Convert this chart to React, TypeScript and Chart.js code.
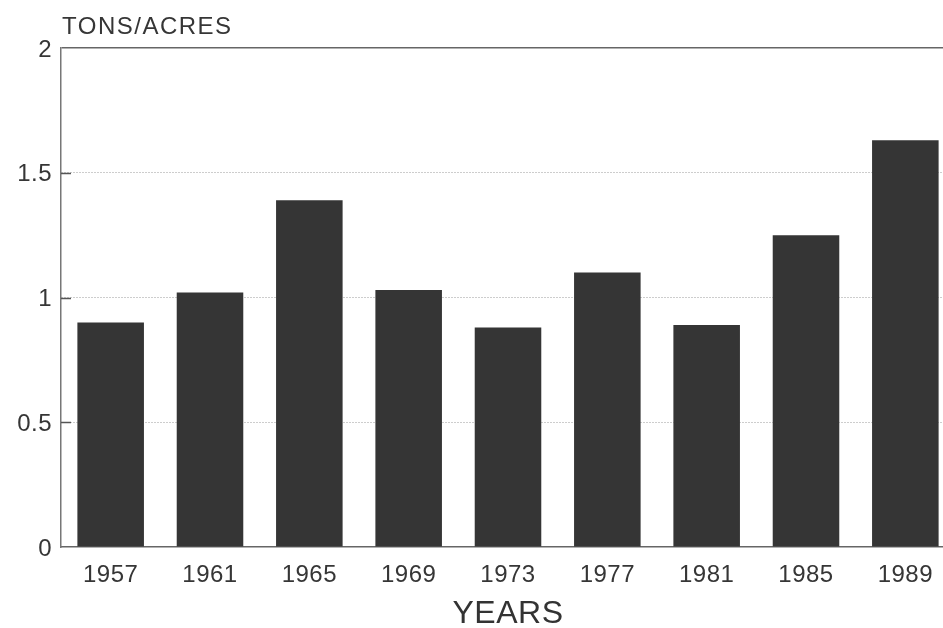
import React, { useEffect, useRef } from "react";
import { Chart, registerables } from "chart.js";

Chart.register(...registerables);

const years = ["1957", "1961", "1965", "1969", "1973", "1977", "1981", "1985", "1989"];
const tonsPerAcre = [0.9, 1.02, 1.39, 1.03, 0.88, 1.1, 0.89, 1.25, 1.63];
const yTicks = [0, 0.5, 1, 1.5, 2];
const yUnitLabel = "TONS/ACRES";
const xTitle = "YEARS";

const FONT = '"Liberation Sans", Arial, Helvetica, sans-serif';
const TEXT = "#363636";

const spacingPlugin = {
  id: "spacing",
  beforeUpdate(chart: any) {
    (chart.ctx as any).letterSpacing = "0.5px";
  },
  beforeDraw(chart: any) {
    (chart.ctx as any).letterSpacing = "0.5px";
  },
};

const overlayPlugin = {
  id: "overlay",
  afterDraw(chart: any) {
    const { ctx, chartArea } = chart;
    const yScale = chart.scales.y;
    ctx.save();
    ctx.strokeStyle = "#555";
    ctx.lineWidth = 1.5;
    yTicks.forEach((v) => {
      if (v === 0 || v === 2) return;
      const y = Math.round(yScale.getPixelForValue(v)) + 0.5;
      ctx.beginPath();
      ctx.moveTo(chartArea.left, y);
      ctx.lineTo(chartArea.left + 10, y);
      ctx.stroke();
    });
    ctx.fillStyle = TEXT;
    ctx.font = `24px ${FONT}`;
    (ctx as any).letterSpacing = "1.5px";
    ctx.textBaseline = "alphabetic";
    ctx.textAlign = "left";
    ctx.fillText(yUnitLabel, chartArea.left + 1, 33.5);
    ctx.restore();
  },
};

export default function App() {
  const canvasRef = useRef<HTMLCanvasElement | null>(null);

  useEffect(() => {
    const canvas = canvasRef.current;
    if (!canvas) return;
    const chart = new Chart(canvas, {
      type: "bar",
      data: {
        labels: years,
        datasets: [
          {
            data: tonsPerAcre,
            backgroundColor: "#353535",
            borderWidth: 0,
            categoryPercentage: 1,
            barPercentage: 0.67,
          },
        ],
      },
      options: {
        animation: false,
        responsive: false,
        maintainAspectRatio: false,
        layout: { padding: { top: 48, right: 5, left: 0, bottom: 0 } },
        plugins: {
          legend: { display: false },
          tooltip: { enabled: false },
          title: { display: false },
        },
        scales: {
          x: {
            grid: { display: false, drawTicks: false },
            border: { display: true, color: "#666", width: 1.5 },
            ticks: {
              color: TEXT,
              font: { family: FONT, size: 24 },
              padding: 14,
              maxRotation: 0,
              autoSkip: false,
            },
            title: {
              display: true,
              text: xTitle,
              color: "#333",
              font: { family: FONT, size: 32 },
              padding: { top: 0, bottom: 0 },
            },
            afterFit: (scale: any) => {
              scale.height = 86;
            },
          },
          y: {
            min: 0,
            max: 2,
            afterBuildTicks: (scale: any) => {
              scale.ticks = yTicks.map((v) => ({ value: v }));
            },
            grid: {
              drawTicks: false,
              color: (ctx: any) => {
                const v = ctx.tick ? ctx.tick.value : null;
                if (v === 0) return "rgba(0,0,0,0)";
                if (v === 2) return "#666";
                return "#9a9a9a";
              },
              lineWidth: (ctx: any) => (ctx.tick && ctx.tick.value === 2 ? 1.5 : 1),
            },
            border: {
              display: true,
              color: "#777",
              width: 1.5,
              dash: (ctx: any) => (ctx.tick && ctx.tick.value === 2 ? [] : [1, 2]),
            },
            ticks: {
              color: TEXT,
              font: { family: FONT, size: 24 },
              padding: 9,
              labelOffset: 2,
              callback: (v: any) => String(v),
            },
            afterFit: (scale: any) => {
              scale.width = 61;
            },
          },
        },
      },
      plugins: [spacingPlugin, overlayPlugin],
    });
    return () => chart.destroy();
  }, []);

  return (
    <div
      style={{
        position: "fixed",
        left: 0,
        top: 0,
        width: 943,
        height: 628,
        overflow: "hidden",
        background: "#fff",
      }}
    >
      <canvas ref={canvasRef} width={960} height={633} style={{ display: "block" }} />
    </div>
  );
}
